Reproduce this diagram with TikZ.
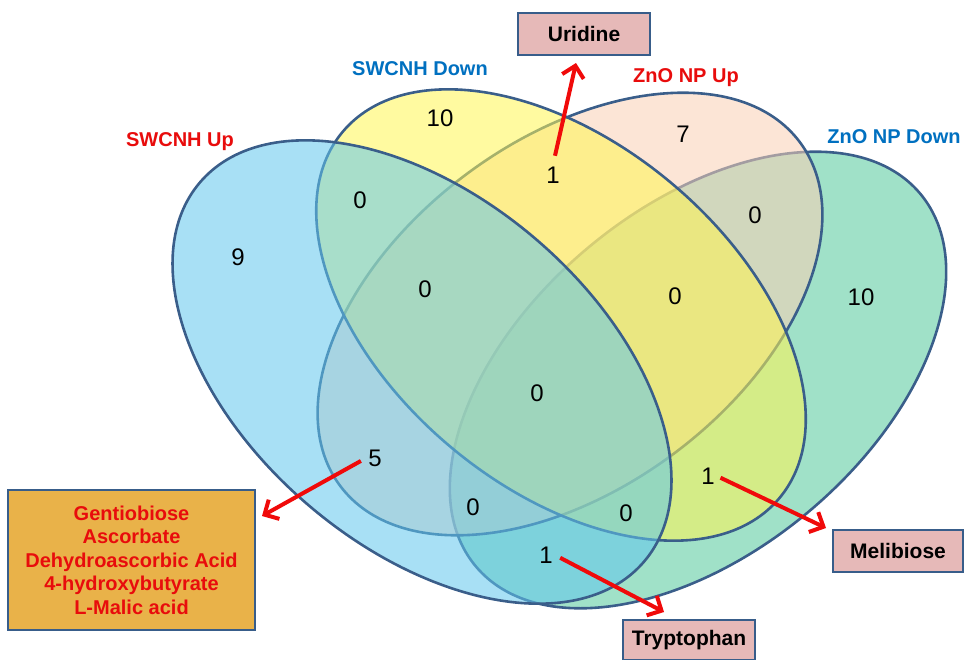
\documentclass[tikz,border=0pt]{standalone}
\usepackage{fontspec}
\setmainfont{Liberation Sans}
\usetikzlibrary{arrows.meta}
\definecolor{cblue}{RGB}{97,199,237}
\definecolor{cyellow}{RGB}{255,246,82}
\definecolor{cpeach}{RGB}{250,208,180}
\definecolor{cgreen}{RGB}{82,200,155}
\definecolor{outl}{RGB}{58,94,138}
\definecolor{lblred}{RGB}{232,12,12}
\definecolor{lblblue}{RGB}{0,112,192}
\definecolor{boxpink}{RGB}{230,185,184}
\definecolor{boxgold}{RGB}{233,178,73}
\definecolor{boxedge}{RGB}{56,93,138}
\definecolor{arrred}{RGB}{240,10,10}
\tikzset{
  venn/.style={draw=outl, line width=2.6pt, fill opacity=0.55, draw opacity=1},
  num/.style={font=\fontsize{24}{28}\selectfont, inner sep=2pt},
  setlbl/.style={font=\fontsize{20}{24}\selectfont\bfseries, inner sep=1pt},
  namebox/.style={draw=boxedge, line width=2.8pt, fill=boxpink, font=\fontsize{21}{25}\selectfont\bfseries, align=center, inner sep=0pt},
  arr/.style={draw=arrred, line width=4pt, -{Straight Barb[length=11pt,width=22pt,line width=4pt]}}
}
\begin{document}
\begin{tikzpicture}[x=1pt,y=-1pt]
\useasboundingbox (0,0) rectangle (965,659);
% ellipses: green (bottom), peach, yellow, blue (top)
\path[venn, fill=cgreen, rotate around={40:(698,380)}] (698,380) ellipse [x radius=290pt, y radius=172pt];
\path[venn, fill=cpeach, rotate around={36.8:(570,314)}] (570,314) ellipse [x radius=287pt, y radius=174pt];
\path[venn, fill=cyellow, rotate around={-40:(561,315)}] (561,315) ellipse [x radius=285pt, y radius=172pt];
\path[venn, fill=cblue, rotate around={-40.5:(422,372)}] (422,372) ellipse [x radius=292pt, y radius=175pt];

% set labels
\node[setlbl, text=lblred] (lA) at (180,142) {SWCNH Up};
\node[setlbl, text=lblblue] (lB) at (420,69) {SWCNH Down};
\node[setlbl, text=lblred] (lC) at (686,78) {ZnO NP Up};
\node[setlbl, text=lblblue] (lD) at (894,137) {ZnO NP Down};

% region counts
\node[num] (nA) at (238,257) {9};
\node[num] (nB) at (440,118) {10};
\node[num] (nC) at (683,134) {7};
\node[num] (nD) at (861,297) {10};
\node[num] (nAB) at (360,200) {0};
\node[num] (nBC) at (553,175) {1};
\node[num] (nCD) at (755,215) {0};
\node[num] (nABC) at (425,289) {0};
\node[num] (nBCD) at (675,296) {0};
\node[num] (nABCD) at (537,393) {0};
\node[num] (nAC) at (375,458) {5};
\node[num] (nBD) at (708,476) {1};
\node[num] (nACD) at (473,507) {0};
\node[num] (nABD) at (626,513) {0};
\node[num] (nAD) at (546,555) {1};

% boxes
\node[namebox, minimum width=132pt, minimum height=42pt] (uri) at (584,34) {Uridine};
\node[namebox, minimum width=130pt, minimum height=42pt] (meli) at (898,551) {Melibiose};
\node[namebox, minimum width=132pt, minimum height=40pt] (tryp) at (689,640) {Tryptophan};
\node[namebox, fill=boxgold, text=lblred, minimum width=247pt, minimum height=140pt,
      font=\fontsize{20}{23.5}\selectfont\bfseries] (gent) at (131.5,560)
  {Gentiobiose\\Ascorbate\\Dehydroascorbic Acid\\4-hydroxybutyrate\\L-Malic acid};

% arrow tips
\coordinate (uriTip) at (576,63);
\coordinate (gentTip) at (262,516);
\coordinate (meliTip) at (826,528);
\coordinate (trypTip) at (664,612);

% arrows
\draw[arr, shorten <=9pt] (nBC.north) -- (uriTip);
\draw[arr, shorten <=6pt] (nAC.west) -- (gentTip);
\draw[arr, shorten <=4pt] (nBD.east) -- (meliTip);
\draw[arr, shorten <=6pt] (nAD.east) -- (trypTip);
\end{tikzpicture}
\end{document}
